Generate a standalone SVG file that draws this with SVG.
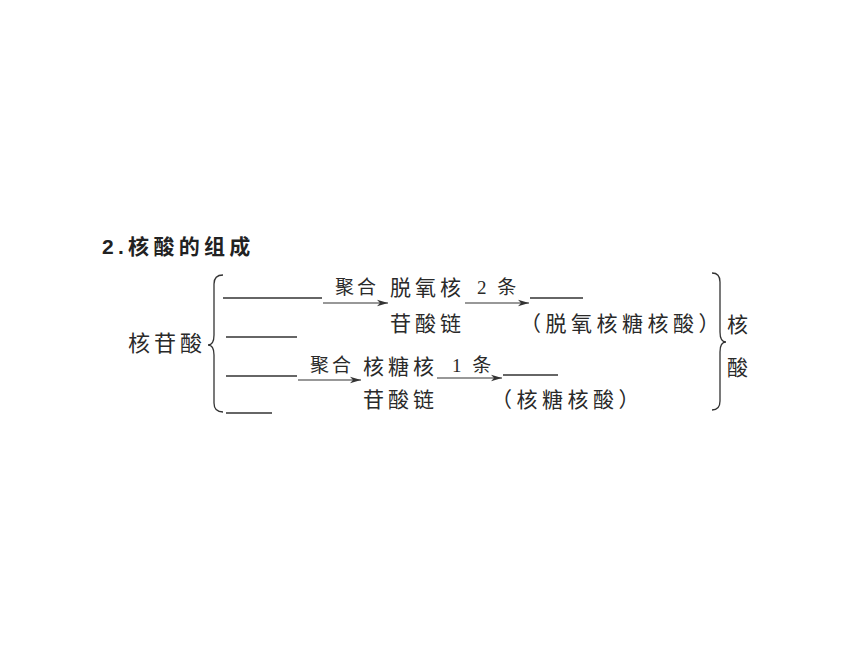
<svg xmlns="http://www.w3.org/2000/svg" width="860" height="645" viewBox="0 0 860 645">
<defs>
<style>
.t{font-family:"Liberation Serif","Noto Sans CJK SC",serif;fill:#2a2a2a;font-size:21px;letter-spacing:4px}
.s{font-size:19px;letter-spacing:3px}
.p{letter-spacing:4.5px}
.ln{stroke:#333;stroke-width:1.3;fill:none}
.ar{stroke:#333;stroke-width:1.2;fill:none}
</style>
<marker id="ah" markerWidth="12" markerHeight="8" refX="11" refY="4" orient="auto" markerUnits="userSpaceOnUse">
<path d="M0,0.8 L11,4 L0,7.2 L3,4 Z" fill="#333"/>
</marker>
</defs>
<rect width="860" height="645" fill="#fff"/>
<g id="title"><text x="102" y="254" style="font-family:'Liberation Sans','Noto Sans CJK SC',sans-serif;font-weight:bold;font-size:21px;letter-spacing:4.3px;fill:#222">2.核酸的组成</text></g>
<g id="nucleotide"><text class="t" x="128" y="351" style="font-size:22px;letter-spacing:4px">核苷酸</text>
<path class="ln" d="M223,275 Q214,275 214,284 L214,335 Q214,345 208,345 Q214,345 214,355 L214,403 Q214,412 223,412"/></g>
<g id="blanks">
<line class="ln" x1="223" y1="298" x2="322" y2="298"/>
<line class="ln" x1="226" y1="337" x2="297" y2="337"/>
<line class="ln" x1="226" y1="376" x2="297" y2="376"/>
<line class="ln" x1="226" y1="413" x2="272" y2="413"/>
</g>
<g id="dna-chain"><text class="t" x="390" y="295">脱氧核</text><text class="t" x="390" y="331">苷酸链</text></g>
<g id="rna-chain"><text class="t" x="363" y="374">核糖核</text><text class="t" x="363" y="407">苷酸链</text></g>
<g id="dna"><line class="ln" x1="530" y1="298" x2="583" y2="298"/><text class="t p" x="520" y="331">（脱氧核糖核酸）</text></g>
<g id="rna"><line class="ln" x1="503" y1="375" x2="558" y2="375"/><text class="t p" x="491" y="407">（核糖核酸）</text></g>
<g id="nucleic-acid"><path class="ln" d="M712,273 Q720,273 720,282 L720,332 Q720,342 726,342 Q720,342 720,352 L720,401 Q720,410 712,410"/>
<text class="t" x="727" y="332">核</text><text class="t" x="727" y="375">酸</text></g>
<g id="connectors">
<line class="ar" x1="323" y1="303" x2="388" y2="303" marker-end="url(#ah)"/>
<text class="t s" x="335" y="294">聚合</text>
<line class="ar" x1="298" y1="380" x2="361" y2="380" marker-end="url(#ah)"/>
<text class="t s" x="310" y="372">聚合</text>
<line class="ar" x1="465" y1="303" x2="529" y2="303" marker-end="url(#ah)"/>
<text class="t s" x="477" y="294">2 条</text>
<line class="ar" x1="437" y1="378" x2="502" y2="378" marker-end="url(#ah)"/>
<text class="t s" x="452" y="372">1 条</text>
</g>
</svg>
